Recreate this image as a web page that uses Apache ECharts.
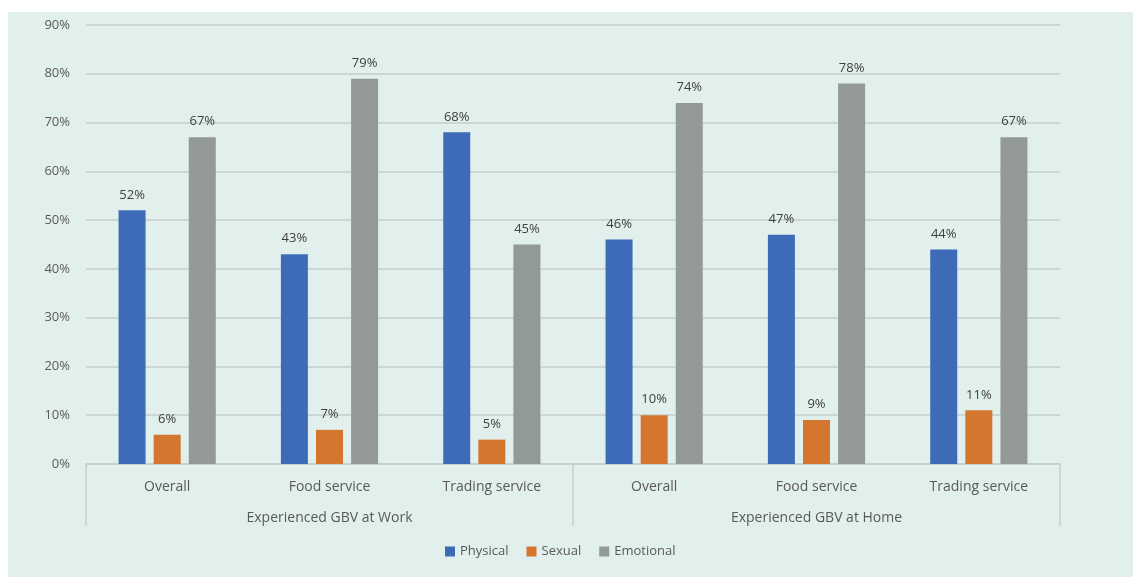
<!DOCTYPE html>
<html>
<head>
<meta charset="utf-8">
<script src="https://cdn.jsdelivr.net/npm/echarts@6/dist/echarts.min.js"></script>
<style>
	html, body { margin: 0; padding: 0; background: #fff; }
	#chart { position: absolute; left: 8px; top: 12px; width: 1125px; height: 565px; background: #e2f0ed; }
</style>
</head>
<body>
<div id="chart"></div>
<script>
//类别
var categories = ['Overall', 'Food service', 'Trading service', 'Overall', 'Food service', 'Trading service'];
var groups = ['Experienced GBV at Work', 'Experienced GBV at Home'];
//数据 (%)
var physical = [52, 43, 68, 46, 47, 44];
var sexual = [6, 7, 5, 10, 9, 11];
var emotional = [67, 79, 45, 74, 78, 67];

var font = '"Open Sans", Lato, sans-serif';
var textColor = '#595959';
var lineColor = '#c3cfcc';

var makeSeries = function(name, data, color) {
	return {
		name: name,
		type: 'bar',
		data: data,
		barWidth: 27,
		barGap: '30%',
		itemStyle: { color: color },
		label: {
			show: true,
			position: 'top',
			distance: 9,
			formatter: '{c}%',
			fontFamily: font,
			fontSize: 13,
			color: '#404040'
		}
	};
};

var chart = echarts.init(document.getElementById('chart'));
chart.setOption({
	animation: false,
	textStyle: { fontFamily: font },
	grid: { left: 78, right: 73, top: 13, bottom: 113 },
	legend: {
		bottom: 14,
		left: 432,
		itemWidth: 10,
		itemHeight: 10,
		itemGap: 18,
		itemTextGap: 4,
		icon: 'rect',
		textStyle: { fontFamily: font, fontSize: 13, color: textColor },
		data: ['Physical', 'Sexual', 'Emotional']
	},
	xAxis: [{
		type: 'category',
		data: categories,
		axisLine: { lineStyle: { color: lineColor, width: 1.5 } },
		axisTick: { show: false },
		axisLabel: { fontFamily: font, fontSize: 14, color: textColor, margin: 16 }
	}, {
		type: 'category',
		data: groups,
		position: 'bottom',
		axisLine: { show: false },
		axisTick: { show: true, length: 62, lineStyle: { color: lineColor, width: 1.5 } },
		axisLabel: { fontFamily: font, fontSize: 14, color: textColor, margin: 47 }
	}],
	yAxis: {
		type: 'value',
		min: 0,
		max: 90,
		interval: 10,
		axisLabel: { formatter: '{value}%', fontFamily: font, fontSize: 13, color: textColor, margin: 16 },
		axisLine: { show: false },
		axisTick: { show: false },
		splitLine: { lineStyle: { color: lineColor, width: 1.5 } }
	},
	series: [
		makeSeries('Physical', physical, '#3d6bb8'),
		makeSeries('Sexual', sexual, '#d5762f'),
		makeSeries('Emotional', emotional, '#939996')
	]
});
</script>
</body>
</html>
